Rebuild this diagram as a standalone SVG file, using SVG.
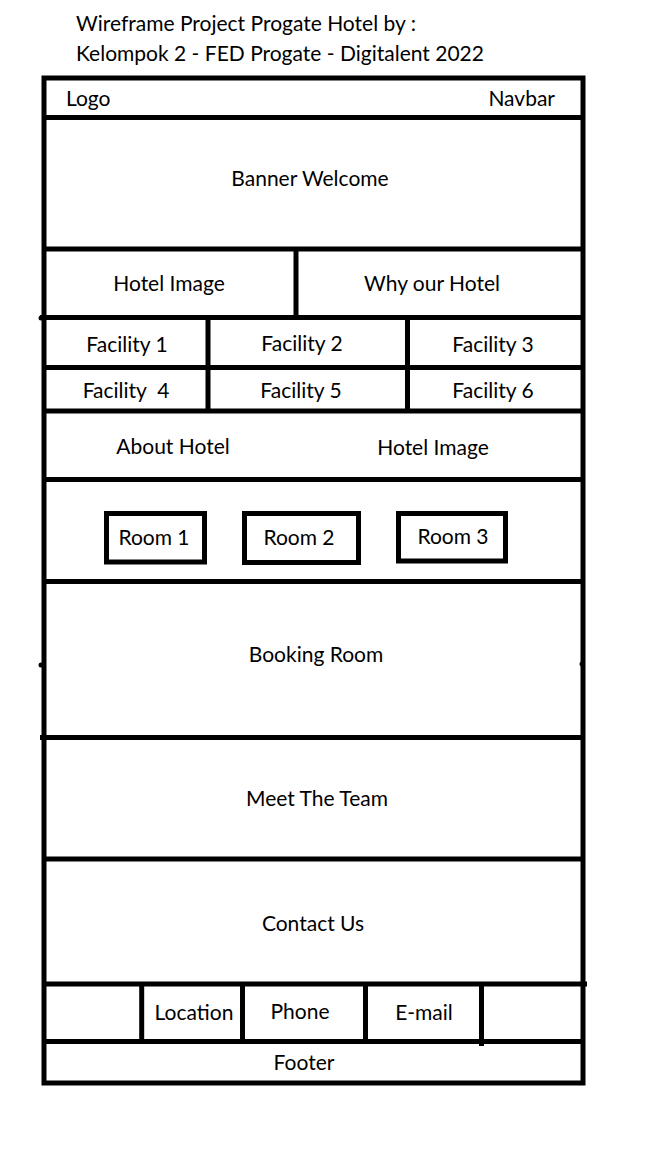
<svg xmlns="http://www.w3.org/2000/svg" width="648" height="1152" viewBox="0 0 648 1152">
<style>
  .ln{stroke:#000;stroke-width:5;fill:none}
  .t{font-family:Lato,"Open Sans","Liberation Sans",sans-serif;font-size:21px;fill:#000}
  .c{text-anchor:middle}
</style>
<rect width="648" height="1152" fill="#fff"/>
<g id="title">
  <text class="t" x="76" y="31">Wireframe Project Progate Hotel by :</text>
  <text class="t" x="76" y="61">Kelompok 2 - FED Progate - Digitalent 2022</text>
</g>
<g id="frame">
  <rect class="ln" x="44" y="78" width="539" height="1005"/>
  <circle cx="41" cy="318" r="2.5"/>
  <circle cx="41" cy="665" r="2.5"/>
  <circle cx="582" cy="664" r="2.5"/>
</g>
<g id="connectors">
  <line class="ln" x1="44" y1="117.5" x2="583" y2="117.5"/>
  <line class="ln" x1="44" y1="249" x2="583" y2="249"/>
  <line class="ln" x1="296" y1="249" x2="296" y2="317.5"/>
  <line class="ln" x1="40" y1="317.5" x2="583" y2="317.5"/>
  <line class="ln" x1="208" y1="317.5" x2="208" y2="411"/>
  <line class="ln" x1="407.5" y1="317.5" x2="407.5" y2="411"/>
  <line class="ln" x1="44" y1="367.5" x2="583" y2="367.5"/>
  <line class="ln" x1="44" y1="411" x2="583" y2="411"/>
  <line class="ln" x1="44" y1="479.5" x2="583" y2="479.5"/>
  <line class="ln" x1="44" y1="581.5" x2="583" y2="581.5"/>
  <line class="ln" x1="40" y1="737.5" x2="583" y2="737.5"/>
  <line class="ln" x1="44" y1="859" x2="583" y2="859"/>
  <line class="ln" x1="46" y1="984" x2="587" y2="984"/>
  <line class="ln" x1="141.7" y1="984" x2="141.7" y2="1041.5"/>
  <line class="ln" x1="242.5" y1="984" x2="242.5" y2="1041.5"/>
  <line class="ln" x1="365.5" y1="984" x2="365.5" y2="1041.5"/>
  <line class="ln" x1="481.5" y1="984" x2="481.5" y2="1046"/>
  <line class="ln" x1="44" y1="1041.5" x2="583" y2="1041.5"/>
</g>
<g id="header">
  <text class="t" x="66" y="106">Logo</text>
  <text class="t" x="555" y="106" text-anchor="end">Navbar</text>
</g>
<g id="banner"><text class="t c" x="310" y="186">Banner Welcome</text></g>
<g id="hotel-image-1"><text class="t c" x="169" y="291">Hotel Image</text></g>
<g id="why-our-hotel"><text class="t c" x="432" y="291">Why our Hotel</text></g>
<g id="facility-1"><text class="t c" x="127" y="352">Facility 1</text></g>
<g id="facility-2"><text class="t c" x="302" y="351">Facility 2</text></g>
<g id="facility-3"><text class="t c" x="493" y="352">Facility 3</text></g>
<g id="facility-4"><text class="t c" x="126" y="398" xml:space="preserve">Facility  4</text></g>
<g id="facility-5"><text class="t c" x="301" y="398">Facility 5</text></g>
<g id="facility-6"><text class="t c" x="493" y="398">Facility 6</text></g>
<g id="about-hotel"><text class="t c" x="173" y="454">About Hotel</text></g>
<g id="hotel-image-2"><text class="t c" x="433" y="455">Hotel Image</text></g>
<g id="room-1">
  <rect class="ln" x="106.5" y="513.5" width="98" height="48.5"/>
  <text class="t c" x="154" y="545">Room 1</text>
</g>
<g id="room-2">
  <rect class="ln" x="244.5" y="513.5" width="114" height="49"/>
  <text class="t c" x="299" y="545">Room 2</text>
</g>
<g id="room-3">
  <rect class="ln" x="398.5" y="513.5" width="107" height="47.5"/>
  <text class="t c" x="453" y="544">Room 3</text>
</g>
<g id="booking-room"><text class="t c" x="316" y="662">Booking Room</text></g>
<g id="meet-the-team"><text class="t c" x="317" y="806">Meet The Team</text></g>
<g id="contact-us"><text class="t c" x="313" y="931">Contact Us</text></g>
<g id="location"><text class="t c" x="194" y="1020">Location</text></g>
<g id="phone"><text class="t c" x="300" y="1019">Phone</text></g>
<g id="email"><text class="t c" x="424" y="1020">E-mail</text></g>
<g id="footer"><text class="t c" x="304" y="1070">Footer</text></g>
</svg>
